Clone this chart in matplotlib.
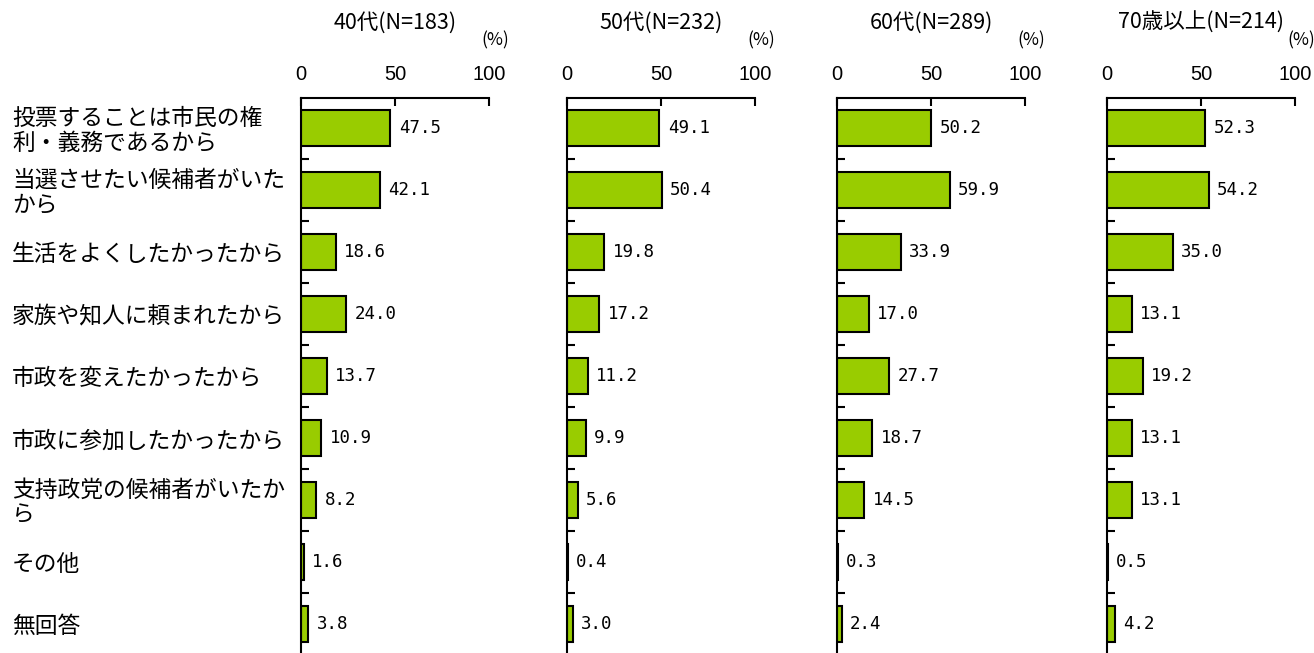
import matplotlib
matplotlib.use("Agg")
import matplotlib.pyplot as plt
from matplotlib.ticker import FixedLocator
from matplotlib.transforms import blended_transform_factory, offset_copy

plt.rcParams['font.family'] = ['Noto Sans CJK JP', 'DejaVu Sans']

categories = [
    "投票することは市民の権\n利・義務であるから",
    "当選させたい候補者がいた\nから",
    "生活をよくしたかったから",
    "家族や知人に頼まれたから",
    "市政を変えたかったから",
    "市政に参加したかったから",
    "支持政党の候補者がいたか\nら",
    "その他",
    "無回答",
]

groups = ["40代(N=183)", "50代(N=232)", "60代(N=289)", "70歳以上(N=214)"]

values_40s = [47.5, 42.1, 18.6, 24.0, 13.7, 10.9, 8.2, 1.6, 3.8]
values_50s = [49.1, 50.4, 19.8, 17.2, 11.2, 9.9, 5.6, 0.4, 3.0]
values_60s = [50.2, 59.9, 33.9, 17.0, 27.7, 18.7, 14.5, 0.3, 2.4]
values_70s = [52.3, 54.2, 35.0, 13.1, 19.2, 13.1, 13.1, 0.5, 4.2]
all_values = [values_40s, values_50s, values_60s, values_70s]

W, H = 1314, 653
fig = plt.figure(figsize=(W / 100, H / 100), dpi=100)

panel_left_px = [301, 567, 837, 1107]
panel_width_px = 188
top_px = 98
row_px = 62
n = len(categories)
ymin, ymax = -0.48, n - 0.5
height_px = (ymax - ymin) * row_px
bottom_px = top_px + height_px

bar_color = "#99CC00"

for i, (left_px, vals, title) in enumerate(zip(panel_left_px, all_values, groups)):
    ax = fig.add_axes([left_px / W, 1 - bottom_px / H, panel_width_px / W, height_px / H])
    y = list(range(n))
    ax.barh(y, vals, height=0.58, color=bar_color, edgecolor="black", linewidth=1.5)
    ax.set_xlim(0, 100)
    ax.set_ylim(ymax, ymin)

    for yy, v in zip(y, vals):
        ax.annotate(f"{v:.1f}", xy=(v, yy), xytext=(6, 0), textcoords="offset points",
                    va="center", ha="left", fontsize=12.5, family="DejaVu Sans Mono")

    ax.spines["right"].set_visible(False)
    ax.spines["bottom"].set_visible(False)
    for s in ("top", "left"):
        ax.spines[s].set_linewidth(1.5)

    ax.xaxis.set_ticks_position("top")
    ax.set_xticks([0, 50, 100])
    ax.set_xticklabels(["0", "50", "100"], family="Liberation Sans", fontsize=14.5)
    ax.tick_params(axis="x", direction="in", length=6, width=1.5, pad=10)

    ax.set_yticks([])
    ax.yaxis.set_minor_locator(FixedLocator([k + 0.5 for k in range(n - 1)]))
    ax.tick_params(axis="y", which="minor", direction="in", length=6, width=1.5)

    fig.text((left_px + panel_width_px / 2) / W, 1 - 23 / H, title,
             ha="center", va="center", fontsize=15.5)
    fig.text((left_px + panel_width_px + 6) / W, 1 - 40 / H, "(%)",
             ha="center", va="center", fontsize=12.5)

    if i == 0:
        label_tr = offset_copy(blended_transform_factory(fig.transFigure, ax.transData),
                               fig=fig, x=0, y=-3, units="dots")
        for yy, label in enumerate(categories):
            ax.text(12 / W, yy, label, transform=label_tr,
                    ha="left", va="center", fontsize=16.4, linespacing=1.1)

fig.savefig("out.png", dpi=100)
